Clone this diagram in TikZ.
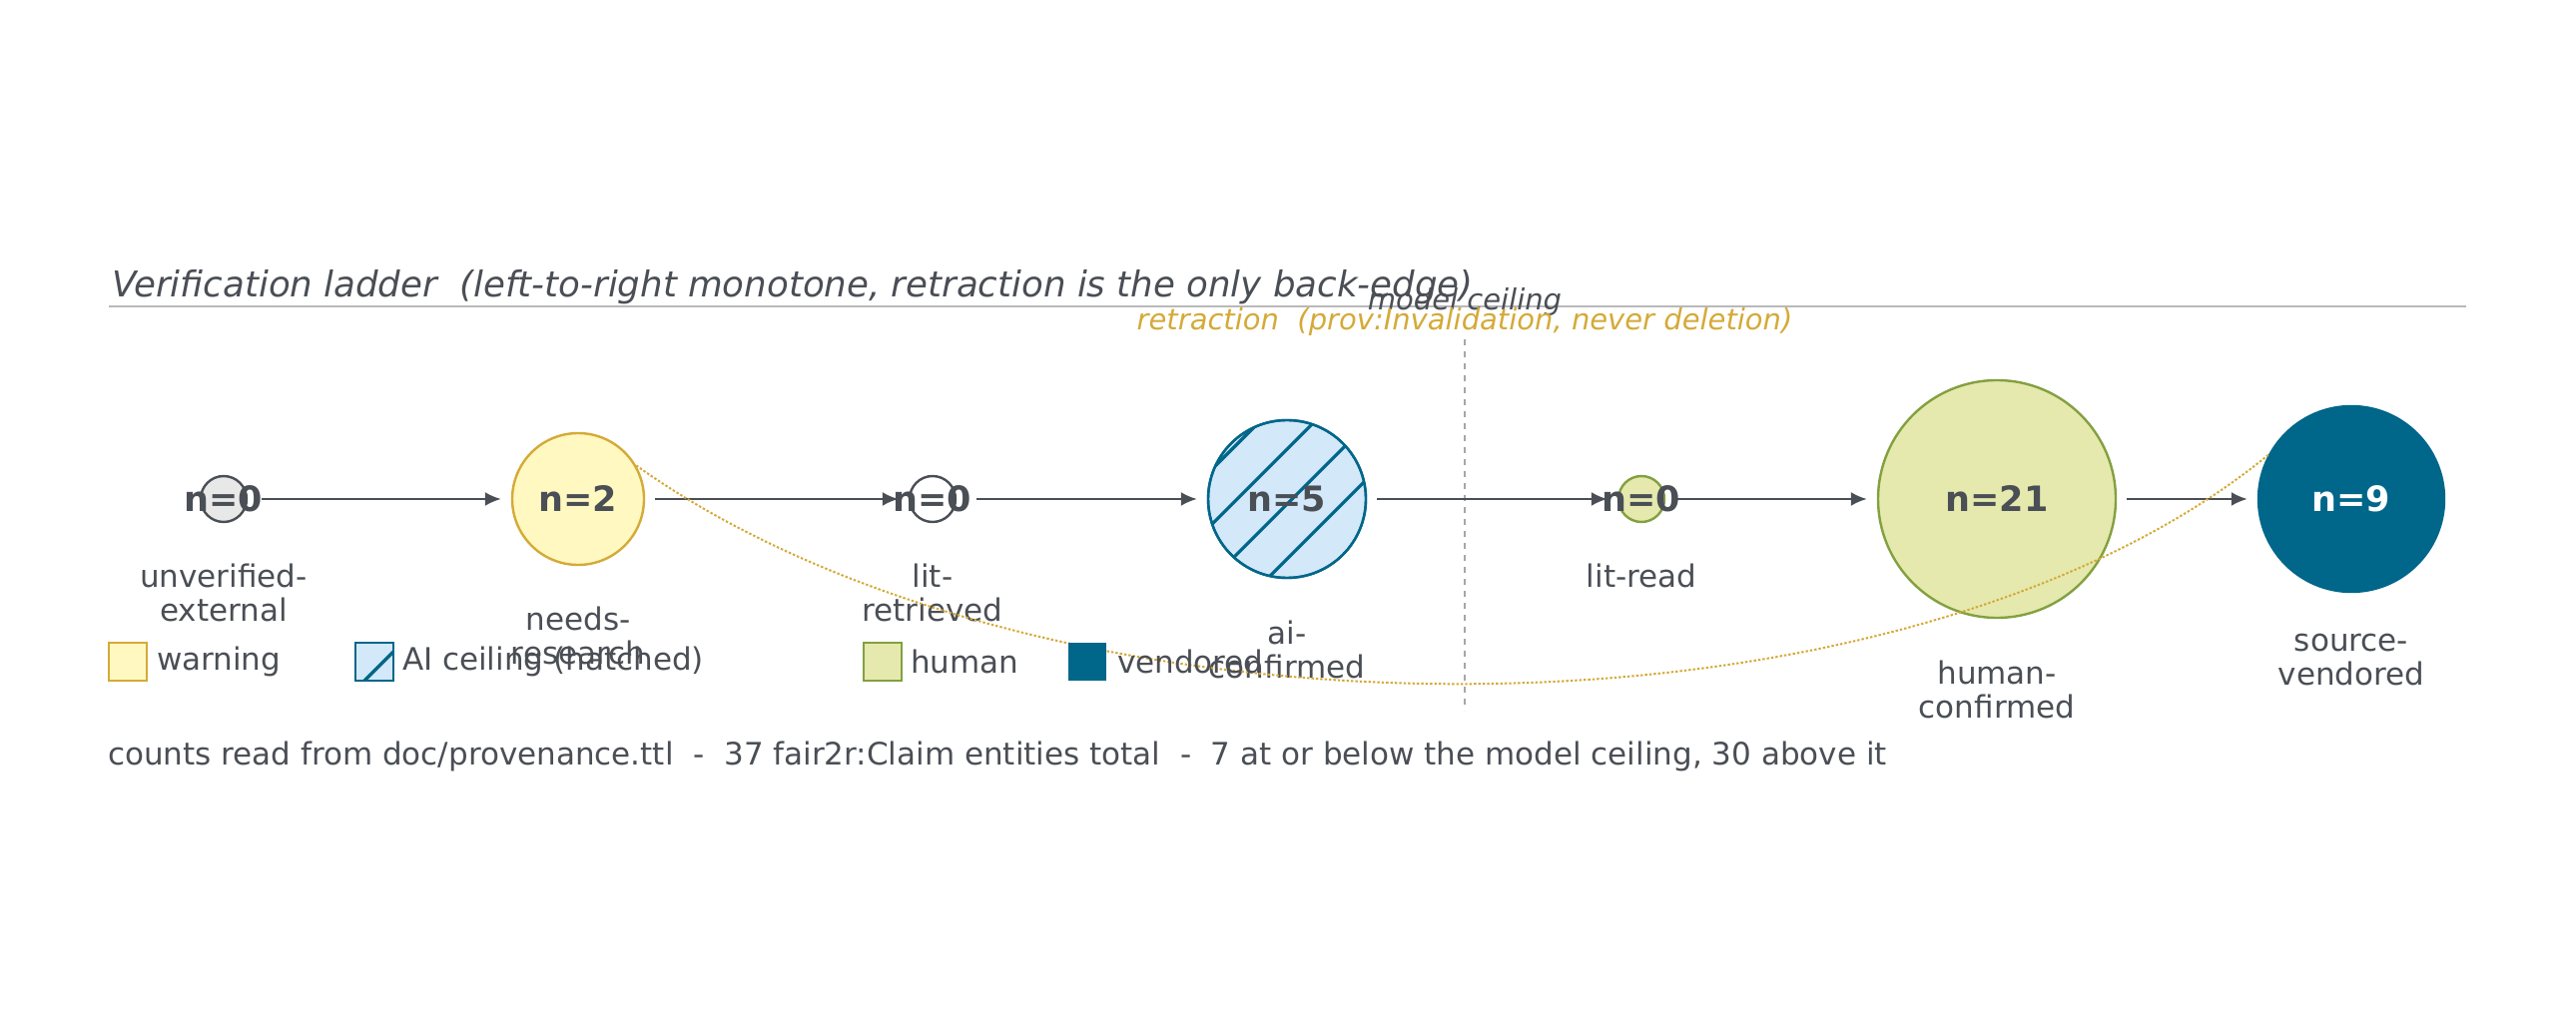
\documentclass[tikz,border=0pt]{standalone}
\usepackage{fontspec}
\setmainfont{DejaVu Sans}
\usetikzlibrary{arrows.meta}
\begin{document}
\definecolor{tx}{HTML}{4A4E55}
\definecolor{gold}{HTML}{D4AA38}
\definecolor{wfill}{HTML}{FFF8C0}
\definecolor{aifill}{HTML}{D3E8F8}
\definecolor{teal}{HTML}{00668A}
\definecolor{hfill}{HTML}{E5E9AE}
\definecolor{hline}{HTML}{83A040}
\begin{tikzpicture}[x=0.5pt,y=-0.5pt,
  st/.style={circle,inner sep=0pt,line width=1.2pt},
  num/.style={font=\fontsize{17.5}{19}\selectfont\bfseries,text=tx,inner sep=0pt},
  lab/.style={align=center,font=\fontsize{15.5}{17}\selectfont,text=tx,anchor=north},
  arr/.style={draw=tx,line width=1.1pt,-{Latex[length=8pt,width=7pt]},shorten >=5pt,shorten <=5pt},
  leg/.style={font=\fontsize{15.5}{16}\selectfont,text=tx,anchor=west}]
\useasboundingbox (0,0) rectangle (2580,1020);
\node[anchor=base west,font=\fontsize{17.8}{19}\selectfont\itshape,text=tx] (title) at (105,298) {Verification ladder\ \ (left-to-right monotone, retraction is the only back-edge)};
\draw[gray!55,line width=1.2pt] (109,307) -- (2470,307);
\coordinate (ct) at (1467,340); \coordinate (cb) at (1467,712);
\draw[gray!70,line width=0.8pt,dash pattern=on 3pt off 3pt] (ct) -- (cb);
\node[font=\fontsize{14.5}{16}\selectfont\itshape,text=tx] (mc) at (1467,303) {model ceiling};
\node[font=\fontsize{14.5}{16}\selectfont\itshape,text=gold] (rt) at (1467,323) {retraction\ \ (prov:Invalidation, never deletion)};
\node[st,minimum size=23pt,fill=gray!18,draw=tx] (A) at (224,500) {};
\node[st,minimum size=66pt,fill=wfill,draw=gold] (B) at (579,500) {};
\node[st,minimum size=23pt,fill=white,draw=tx] (C) at (934,500) {};
\node[st,minimum size=79pt,fill=aifill,draw=teal] (D) at (1289,500) {};
\begin{scope}
\clip (1289,500) circle (79);
\foreach \k in {-160,-105,-50,5,60,115,170} \draw[teal,line width=1.6pt] (1289+\k-100,600) -- (1289+\k+100,400);
\end{scope}
\draw[teal,line width=1.2pt] (D) circle (79);
\node[st,minimum size=23pt,fill=hfill,draw=hline] (E) at (1644,500) {};
\node[st,minimum size=119pt,fill=hfill,draw=hline] (F) at (2000,500) {};
\node[st,minimum size=93pt,fill=teal,draw=teal] (G) at (2355,500) {};
\draw[arr,shorten <=7pt] (A) -- (B); \draw[arr] (B) -- (C); \draw[arr,shorten <=10pt] (C) -- (D);
\draw[arr] (D) -- (E); \draw[arr] (E) -- (F); \draw[arr] (F) -- (G);
\node[num] (na) at (A) {n=0};
\node[num] (nb) at (B) {n=2};
\node[num] (nc) at (C) {n=0};
\node[num] (nd) at (D) {n=5};
\node[num] (ne) at (E) {n=0};
\node[num] (nf) at (F) {n=21};
\node[num,text=white] (ng) at (G) {n=9};
\node[lab] (la) at (224,558) {unverified-\\external};
\node[lab] (lb) at (579,601) {needs-\\research};
\node[lab] (lc) at (934,558) {lit-\\retrieved};
\node[lab] (ld) at (1289,615) {ai-\\confirmed};
\node[lab] (le) at (1644,558) {lit-read};
\node[lab] (lf) at (2000,655) {human-\\confirmed};
\node[lab] (lg) at (2355,628) {source-\\vendored};
\draw[gold,line width=1pt,dash pattern=on 1.2pt off 1pt] (G.152) .. controls (1900,760) and (1050,760) .. (B.30);
\draw[gold,fill=wfill,line width=1pt] (109,644) rectangle (147,682);
\node[leg] (l1) at (150,663) {warning};
\draw[teal,fill=aifill,line width=1pt] (356,644) rectangle (394,682);
\draw[teal,line width=1.6pt] (365,682) -- (394,653);
\node[leg] (l2) at (396,663) {AI ceiling (hatched)};
\draw[hline,fill=hfill,line width=1pt] (865,644) rectangle (903,682);
\node[leg] (l3) at (905,663) {human};
\fill[teal] (1070,644) rectangle (1108,682);
\node[leg] (l4) at (1112,663) {vendored};
\node[anchor=west,font=\fontsize{15.5}{16}\selectfont,text=tx] (foot) at (101,758) {counts read from doc/provenance.ttl\ \ -\ \ 37 fair2r:Claim entities total\ \ -\ \ 7 at or below the model ceiling, 30 above it};
\end{tikzpicture}
\end{document}
